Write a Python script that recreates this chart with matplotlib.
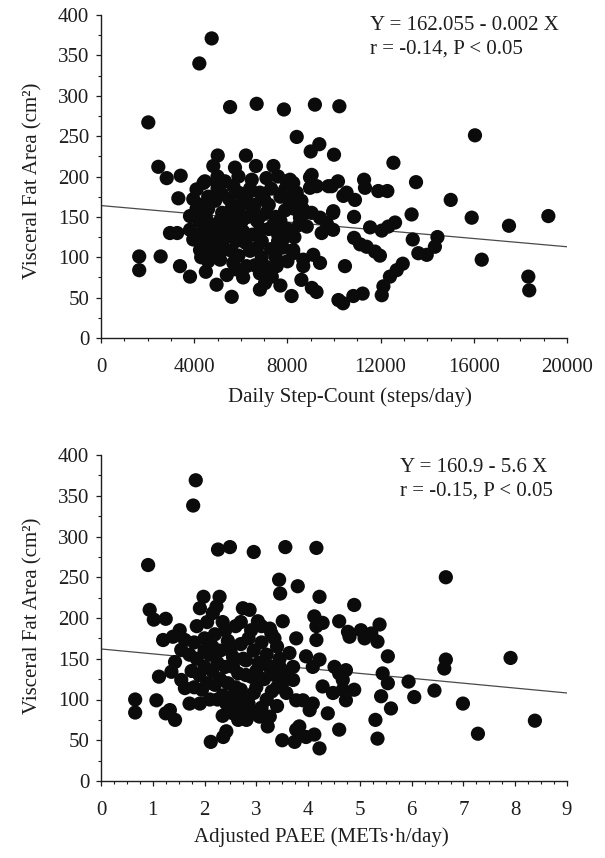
import matplotlib
matplotlib.use("Agg")
import matplotlib.pyplot as plt
from matplotlib.ticker import MultipleLocator

plt.rcParams['font.family'] = ['Liberation Serif', 'DejaVu Serif']

# ---------------- data: top panel (daily step count) ----------------
steps_x = [4750, 4220, 2030, 5540, 6680, 7850, 9180, 10230,
           8400, 9370, 9000, 10000, 16050,
           2460, 2820, 3420, 5010, 6220, 5750, 6650, 7400, 4820,
           3320, 1640, 1640, 2560, 2960, 3270, 3390, 3820,
           4960, 5610, 6820, 7040, 8180, 8600, 9050, 10190, 10390,
           9400, 8970, 10170, 7970,
           12550, 13520, 15010, 15910, 17510, 19200, 16340, 18340, 18380,
           11290, 11330, 11900, 12290, 10400, 10900, 9960, 9960, 10860,
           11550, 12050, 12620, 12330, 13330,
           10860, 11120, 11400, 11760, 11970,
           13380, 13620, 13980, 14330, 14440,
           10470, 10830, 11230, 12050, 12120, 12400, 12690, 12950,
           9040, 9260, 9900, 8110, 7900, 8250,
           8680, 9040, 9400, 9970, 9690, 9470, 8540, 8830,
           8250, 8680, 9110, 9250,
           4100, 4460, 4960, 5320, 5680, 6470, 6820, 6320, 8250, 8400, 8970, 9760, 10540,
           3960, 3820, 3820, 3960, 4250,
           4540, 5110, 5680, 6250, 6820, 7330, 7540, 8250, 8680,
           4300, 4600, 4900, 5200, 5500, 5900, 6200, 6600, 7000, 7300, 7700, 8100,
           4200, 4500, 4800, 5200, 5500, 5900, 6300, 6700, 7100, 7500, 7900,
           4400, 4700, 5000, 5400, 5800, 6100, 6500, 6900, 7200, 7600, 8000,
           4800, 5300, 5900, 6400, 6900, 7300, 7800, 8000,
           4400, 5000, 5900, 7100, 7600,
           4500, 5400, 6100, 7700, 7600, 8300, 8500,
           4100, 4300, 4600, 4650, 5000, 5100, 5350, 5600, 5700, 6000, 6050,
           6400, 6500, 6800, 6850, 7200, 7400, 7700, 7900, 8300, 8600, 8800,
           5100, 5600, 6200, 6700, 7500, 4600, 5800, 6600, 7100, 4300]
steps_y = [371, 340, 267, 286, 290, 283, 289, 287,
           249, 240, 231, 227, 251,
           212, 198, 201, 226, 226, 211, 213, 213, 213,
           173, 101, 84, 101, 130, 130, 89, 76,
           66, 51, 60, 68, 52, 72, 62, 47, 43,
           93, 199, 194, 194,
           217, 193, 171, 149, 139, 151, 97, 76, 59,
           196, 186, 182, 182, 176, 171, 155, 134, 150,
           137, 133, 143, 138, 153,
           124, 116, 113, 107, 102,
           122, 105, 103, 113, 125,
           89, 52, 55, 53, 64, 76, 84, 92,
           202, 188, 188, 196, 184, 180,
           159, 155, 149, 157, 142, 130, 149, 138,
           109, 97, 103, 57,
           184, 194, 193, 194, 188, 196, 180, 180, 192, 180, 186, 188, 180,
           172, 151, 134, 122, 109,
           101, 97, 93, 89, 80, 76, 89, 105, 89,
           165, 175, 170, 178, 172, 180, 170, 165, 172, 185, 175, 168,
           145, 150, 140, 155, 148, 155, 150, 145, 155, 150, 158,
           125, 118, 130, 125, 120, 132, 128, 120, 135, 128, 135,
           105, 110, 102, 108, 100, 110, 112, 95,
           192, 200, 200, 198, 200,
           82, 78, 75, 65, 120, 125, 140,
           160, 130, 160, 135, 185, 145, 140, 160, 135, 165, 145,
           185, 160, 150, 135, 165, 140, 145, 125, 160, 170, 155,
           115, 108, 118, 112, 100, 95, 85, 90, 88, 100]

# ---------------- data: bottom panel (adjusted PAEE) ----------------
paee_x = [1.83, 1.78, 0.91, 2.26, 2.49, 2.95, 3.56, 3.44, 3.46, 3.80,
          0.94, 1.02, 1.25, 1.20, 0.66, 0.66, 1.07, 1.12, 1.25, 1.43, 1.33,
          2.12, 2.42, 2.36, 3.50, 3.74, 3.77,
          1.98, 1.91, 2.29, 2.23, 2.16, 2.74, 2.87, 3.03, 3.26, 3.29, 3.51, 3.77,
          1.52, 1.39, 1.62, 1.55, 1.71,
          1.43, 1.36, 1.55, 1.62, 1.71, 1.91,
          2.42, 2.55, 2.81, 2.93, 3.06, 3.22, 3.26,
          3.58, 3.71, 3.64, 3.71, 3.58, 3.77,
          4.16, 6.66,
          4.22, 4.89, 4.12, 4.16, 4.28, 4.16, 4.60, 4.80, 4.77,
          5.02, 5.09, 5.22, 5.38, 5.34, 5.54,
          3.96, 4.22, 4.09, 4.51, 4.73, 4.60, 4.67,
          4.28, 4.48, 4.67, 4.89, 4.73,
          5.44, 5.54, 5.41, 5.60, 5.94, 6.05, 6.44, 6.66, 6.63, 7.91, 6.99, 7.28, 8.38,
          5.30, 5.34, 4.60, 3.90, 4.09, 4.38, 4.03, 3.83, 3.96, 4.12, 4.22,
          1.85, 2.05, 2.35, 2.60, 2.90, 3.10, 3.40,
          1.80, 2.00, 2.20, 2.45, 2.70, 2.95, 3.20, 3.45,
          1.85, 2.10, 2.30, 2.55, 2.80, 3.05, 3.30, 3.50,
          1.90, 2.15, 2.40, 2.65, 2.90, 3.15, 3.40,
          1.95, 2.20, 2.45, 2.70, 2.95, 3.20, 3.40,
          2.10, 2.35, 2.60, 2.85, 2.50, 2.70,
          1.75, 1.80, 2.00, 2.05, 2.25, 2.30, 2.50, 2.55, 2.60, 2.75, 2.80,
          2.85, 3.00, 3.00, 3.10, 3.25, 3.35, 3.35, 2.15, 2.40, 2.70, 2.00,
          2.25, 2.55, 2.75, 3.10, 2.35, 2.65, 3.45, 3.30]
paee_y = [369, 338, 265, 284, 287, 281, 287, 247, 230, 239,
          210, 198, 199, 173, 100, 84, 99, 128, 83, 75, 87,
          48, 61, 54, 50, 48, 63,
          226, 212, 226, 214, 206, 212, 210, 196, 187, 181, 196, 175,
          185, 177, 173, 161, 155,
          146, 134, 124, 114, 95, 95,
          95, 83, 75, 83, 79, 67, 79,
          108, 124, 157, 140, 132, 99,
          286, 250,
          226, 216, 202, 190, 194, 173, 196, 177, 183,
          185, 175, 181, 192, 171, 153,
          153, 149, 140, 140, 136, 132, 124,
          116, 108, 112, 112, 99,
          132, 120, 104, 89, 122, 103, 111, 149, 138, 151, 95, 58, 74,
          75, 52, 63, 99, 95, 83, 87, 67, 54, 57, 40,
          190, 195, 195, 190, 185, 170, 165,
          170, 175, 180, 172, 168, 160, 155, 150,
          150, 155, 160, 152, 148, 145, 140, 120,
          130, 135, 140, 132, 128, 125, 115,
          112, 118, 120, 112, 108, 100, 92,
          100, 105, 98, 95, 88, 85,
          135, 115, 140, 120, 145, 125, 160, 140, 115, 150, 130,
          175, 135, 115, 190, 140, 130, 175, 165, 185, 195, 160,
          100, 105, 100, 90, 80, 75, 140, 110]

# regression lines (endpoints)
steps_line_x = [0, 20000]
steps_line_y = [164, 113]
paee_line_x = [0, 9]
paee_line_y = [162, 108]

eq_top = ["Y = 162.055 - 0.002 X", "r = -0.14, P < 0.05"]
eq_bot = ["Y = 160.9 - 5.6 X", "r = -0.15, P < 0.05"]

INK = '#1e1e1e'
FS = 15

fig = plt.figure(figsize=(6.05, 8.58), dpi=100)
W, H = 605, 858

def make_ax(top_px, bot_px):
    left, right = 101, 567
    return fig.add_axes([left / W, 1 - bot_px / H, (right - left) / W, (bot_px - top_px) / H])

ax1 = make_ax(15, 338)
ax2 = make_ax(455, 781)

dot = dict(s=105, color='#0b0b0b', edgecolors='none', zorder=3)
ax1.scatter(steps_x, steps_y, **dot)
ax2.scatter(paee_x, paee_y, **dot)
ax1.plot(steps_line_x, steps_line_y, color='#4a4a4a', lw=0.9, zorder=2)
ax2.plot(paee_line_x, paee_line_y, color='#4a4a4a', lw=0.9, zorder=2)

for ax in (ax1, ax2):
    ax.set_ylim(0, 400)
    ax.yaxis.set_major_locator(MultipleLocator(50))
    ax.yaxis.set_minor_locator(MultipleLocator(25))
    for s in ('top', 'right'):
        ax.spines[s].set_visible(False)
    for s in ('left', 'bottom'):
        ax.spines[s].set_linewidth(1.0)
        ax.spines[s].set_color(INK)
    ax.tick_params(which='major', direction='out', length=3.5, width=0.9,
                   labelsize=FS, colors=INK)
    ax.tick_params(which='minor', direction='out', length=2.2, width=0.8, colors=INK)
    ax.tick_params(axis='x', which='major', pad=11)
    ax.tick_params(axis='y', which='major', pad=5)
    ax.set_facecolor('white')

ax1.set_xlim(0, 20000)
ax1.xaxis.set_major_locator(MultipleLocator(4000))
ax1.xaxis.set_minor_locator(MultipleLocator(1000))
ax1.set_xlabel("Daily Step-Count (steps/day)", fontsize=FS, color=INK)
ax1.xaxis.set_label_coords(0.534, -0.152)
ax1.set_ylabel("Visceral Fat Area (cm²)", fontsize=FS, color=INK)
ax1.yaxis.set_label_coords(-0.125, 0.486)

ax2.set_xlim(0, 9)
ax2.xaxis.set_major_locator(MultipleLocator(1))
ax2.xaxis.set_minor_locator(MultipleLocator(0.25))
ax2.set_xlabel("Adjusted PAEE (METs·h/day)", fontsize=FS, color=INK)
ax2.xaxis.set_label_coords(0.473, -0.142)
ax2.set_ylabel("Visceral Fat Area (cm²)", fontsize=FS, color=INK)
ax2.yaxis.set_label_coords(-0.125, 0.506)

fig.text(370 / W, 1 - 26 / H, eq_top[0], fontsize=FS, va='center', ha='left', color=INK)
fig.text(370 / W, 1 - 49 / H, eq_top[1], fontsize=FS, va='center', ha='left', color=INK)
fig.text(400 / W, 1 - 467 / H, eq_bot[0], fontsize=FS, va='center', ha='left', color=INK)
fig.text(400 / W, 1 - 491 / H, eq_bot[1], fontsize=FS, va='center', ha='left', color=INK)

fig.savefig("out.png", dpi=100, facecolor='white')
